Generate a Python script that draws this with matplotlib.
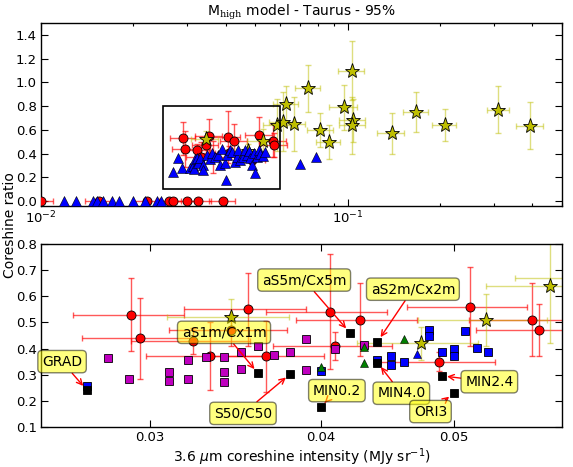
import matplotlib
matplotlib.use('Agg')
import matplotlib.pyplot as plt
from matplotlib.patches import Rectangle
from matplotlib.ticker import FixedLocator, NullFormatter, LogLocator, FixedFormatter

# red circles (observations with error bars)
red_x = [0.0291, 0.0295, 0.0323, 0.0332, 0.0344, 0.0354, 0.0365, 0.0406, 0.0410, 0.0427, 0.0488, 0.0514, 0.0570, 0.0577]
red_y = [0.53, 0.44, 0.43, 0.37, 0.47, 0.55, 0.37, 0.54, 0.41, 0.51, 0.35, 0.56, 0.51, 0.47]
red_xerr = [0.0027, 0.0027, 0.0032, 0.0034, 0.0034, 0.0036, 0.0037, 0.0041, 0.0041, 0.0043, 0.0048, 0.0052, 0.0057, 0.0058]
red_yerr = [0.14, 0.155, 0.05, 0.13, 0.06, 0.14, 0.135, 0.22, 0.055, 0.14, 0.035, 0.15, 0.14, 0.10]

# red circles with zero ratio
red0_x = [0.0100, 0.0154, 0.0221, 0.0261, 0.0270, 0.0299, 0.0326, 0.0391]
red0_y = [0, 0, 0, 0, 0, 0, 0, 0]

# yellow stars
star_x = [0.0344, 0.0473, 0.0528, 0.0588, 0.0614, 0.0629, 0.0666, 0.0745, 0.0814, 0.0867,
          0.0970, 0.1033, 0.1038, 0.1036, 0.139, 0.167, 0.207, 0.310, 0.394]
star_y = [0.52, 0.42, 0.51, 0.64, 0.67, 0.82, 0.65, 0.95, 0.60, 0.50,
          0.79, 1.10, 0.68, 0.64, 0.57, 0.75, 0.64, 0.77, 0.635]
star_xerr = [0.0035, 0.0048, 0.0057, 0.006, 0.006, 0.006, 0.006, 0.007, 0.008, 0.008,
             0.010, 0.010, 0.010, 0.010, 0.014, 0.016, 0.019, 0.025, 0.040]
star_yerr = [0.07, 0.064, 0.10, 0.22, 0.245, 0.15, 0.23, 0.20, 0.145, 0.145,
             0.19, 0.25, 0.18, 0.24, 0.17, 0.17, 0.135, 0.196, 0.196]

# blue triangles (top panel)
tri_x = [0.0270, 0.0289, 0.0279, 0.0307, 0.0314, 0.0316, 0.0318, 0.0322, 0.0326, 0.0330,
         0.0338, 0.0338, 0.0347, 0.0356, 0.0360, 0.0369, 0.0379, 0.0383, 0.0388, 0.0398,
         0.0401, 0.0405, 0.0413, 0.0419, 0.0429, 0.0435, 0.0440, 0.0446, 0.0455, 0.0463,
         0.0471, 0.0478, 0.0481, 0.0487, 0.0493, 0.0499, 0.0505, 0.0512, 0.0518, 0.0531,
         0.0538, 0.070, 0.079]
tri_y = [0.244, 0.283, 0.366, 0.283, 0.299, 0.268, 0.355, 0.366, 0.319, 0.366,
         0.304, 0.263, 0.388, 0.355, 0.402, 0.375, 0.388, 0.304, 0.436, 0.319,
         0.179, 0.388, 0.433, 0.416, 0.333, 0.375, 0.430, 0.347, 0.375, 0.430,
         0.388, 0.425, 0.361, 0.304, 0.402, 0.235, 0.375, 0.433, 0.394, 0.383,
         0.416, 0.313, 0.369]
tri0_x = [0.0119, 0.0130, 0.0148, 0.0152, 0.0159, 0.0171, 0.0180, 0.0200, 0.0218, 0.0239, 0.0247]
tri0_y = [0, 0, 0, 0, 0, 0, 0, 0, 0, 0, 0]

# model squares (bottom panel)
sq_m_x = [0.028, 0.029, 0.031, 0.031, 0.032, 0.032, 0.033, 0.034, 0.034, 0.034,
          0.035, 0.035, 0.036, 0.037, 0.038, 0.039, 0.039, 0.041, 0.043]
sq_m_y = [0.363, 0.285, 0.310, 0.275, 0.358, 0.285, 0.368, 0.369, 0.309, 0.272,
          0.387, 0.322, 0.410, 0.374, 0.388, 0.435, 0.318, 0.397, 0.415]
sq_b_x = [0.027, 0.040, 0.044, 0.045, 0.045, 0.046, 0.048, 0.048, 0.049, 0.050, 0.050, 0.051, 0.052, 0.053]
sq_b_y = [0.258, 0.314, 0.356, 0.372, 0.337, 0.350, 0.471, 0.448, 0.388, 0.398, 0.372, 0.468, 0.402, 0.388]
sq_k_x = [0.027, 0.036, 0.038, 0.040, 0.042, 0.044, 0.044, 0.049, 0.050]
sq_k_y = [0.241, 0.305, 0.303, 0.178, 0.461, 0.426, 0.346, 0.296, 0.229]
tri_g_x = [0.040, 0.043, 0.043, 0.046]
tri_g_y = [0.331, 0.405, 0.344, 0.437]
tri_b2_x = [0.047]
tri_b2_y = [0.380]

# labels: text, target point, text position
lab_text = ['GRAD', 'aS1m/Cx1m', 'S50/C50', 'aS5m/Cx5m', 'aS2m/Cx2m', 'MIN0.2', 'MIN4.0', 'MIN2.4', 'ORI3']
lab_xy = [(0.027, 0.241), (0.036, 0.305), (0.038, 0.303), (0.042, 0.461), (0.044, 0.426),
          (0.040, 0.178), (0.044, 0.346), (0.049, 0.296), (0.050, 0.229)]
lab_txt = [(0.0259, 0.350), (0.0340, 0.462), (0.0351, 0.152), (0.0389, 0.662), (0.0467, 0.627),
           (0.0411, 0.239), (0.0458, 0.229), (0.0531, 0.273), (0.0481, 0.159)]

plt.rcParams['font.size'] = 10

fig = plt.figure(figsize=(5.73, 4.67), dpi=100)
ax1 = fig.add_axes([0.0716, 0.5589, 0.9093, 0.3919])
ax2 = fig.add_axes([0.0716, 0.0857, 0.9093, 0.3919])

red_ecol = (1, 0, 0, 0.65)
yel_ecol = (0.75, 0.75, 0, 0.5)

for ax in (ax1, ax2):
    ax.errorbar(red_x, red_y, xerr=red_xerr, yerr=red_yerr, fmt='none', ecolor=red_ecol,
                elinewidth=1, capsize=2.5, zorder=2)
    ax.errorbar(star_x, star_y, xerr=star_xerr, yerr=star_yerr, fmt='none', ecolor=yel_ecol,
                elinewidth=1, capsize=2.5, zorder=2)

# top panel
ax1.errorbar(red0_x, red0_y, xerr=[v * 0.095 for v in red0_x], fmt='none', ecolor=red_ecol,
             elinewidth=1, capsize=2.5, zorder=2)
ax1.plot(red_x + red0_x, red_y + red0_y, 'o', mfc='r', mec='k', mew=0.6, ms=6.5, zorder=3)
ax1.plot(star_x, star_y, '*', mfc=(0.75, 0.75, 0), mec='k', mew=0.6, ms=11, zorder=4)
ax1.plot(tri_x + tri0_x, tri_y + tri0_y, '^', mfc='b', mec='k', mew=0.4, ms=6.5, zorder=5)
ax1.add_patch(Rectangle((0.025, 0.1), 0.035, 0.7, fill=False, ec='k', lw=1.2, zorder=6))

ax1.set_xscale('log')
ax1.set_xlim(0.01, 0.5)
ax1.set_ylim(-0.04, 1.5)
ax1.set_yticks([0.0, 0.2, 0.4, 0.6, 0.8, 1.0, 1.2, 1.4])
ax1.set_yticklabels(['0.0', '0.2', '0.4', '0.6', '0.8', '1.0', '1.2', '1.4'])
ax1.xaxis.set_major_locator(FixedLocator([0.01, 0.1]))
ax1.xaxis.set_major_formatter(FixedFormatter([r'$10^{-2}$', r'$10^{-1}$']))
ax1.xaxis.set_minor_locator(LogLocator(base=10, subs=range(2, 10)))
ax1.xaxis.set_minor_formatter(NullFormatter())
ax1.set_title(r'M$_{\rm high}$ model - Taurus - 95%', fontsize=10, pad=5,
              math_fontfamily='dejavuserif')

# bottom panel
ax2.plot(red_x, red_y, 'o', mfc='r', mec='k', mew=0.6, ms=6.5, zorder=3)
ax2.plot(star_x, star_y, '*', mfc=(0.75, 0.75, 0), mec='k', mew=0.6, ms=11, zorder=4)
ax2.plot(sq_m_x, sq_m_y, 's', mfc=(0.75, 0, 0.75), mec='k', mew=0.6, ms=6, zorder=5)
ax2.plot(sq_b_x, sq_b_y, 's', mfc='b', mec='k', mew=0.6, ms=6, zorder=5)
ax2.plot(tri_g_x, tri_g_y, '^', mfc=(0, 0.5, 0), mec='k', mew=0.4, ms=6, zorder=5)
ax2.plot(tri_b2_x, tri_b2_y, '^', mfc='b', mec='k', mew=0.4, ms=6, zorder=5)
ax2.plot(sq_k_x, sq_k_y, 's', mfc='k', mec='k', mew=0.6, ms=6, zorder=6)

for t, xy, xyt in zip(lab_text, lab_xy, lab_txt):
    ax2.annotate(t, xy=xy, xytext=xyt, ha='center', va='center', fontsize=10, zorder=10,
                 bbox=dict(boxstyle='round,pad=0.3', fc='yellow', ec='k', alpha=0.5),
                 arrowprops=dict(arrowstyle='->', color='r', shrinkA=0, shrinkB=4, lw=1))

ax2.set_xscale('log')
ax2.set_xlim(0.025, 0.06)
ax2.set_ylim(0.1, 0.8)
ax2.xaxis.set_major_locator(FixedLocator([0.03, 0.04, 0.05]))
ax2.xaxis.set_major_formatter(FixedFormatter(['0.03', '0.04', '0.05']))
ax2.xaxis.set_minor_locator(FixedLocator([]))
ax2.set_yticks([0.1, 0.2, 0.3, 0.4, 0.5, 0.6, 0.7, 0.8])
ax2.set_yticklabels(['0.1', '0.2', '0.3', '0.4', '0.5', '0.6', '0.7', '0.8'])
ax2.set_xlabel(r'3.6 $\mu$m coreshine intensity (MJy sr$^{-1}$)', fontsize=10, labelpad=1.5)

for ax in (ax1, ax2):
    ax.tick_params(which='both', direction='in', top=True, right=True, labelsize=9.5)
    ax.tick_params(which='major', length=5, width=0.8, pad=3)
    ax.tick_params(which='minor', length=2.5, width=0.8)
    for s in ax.spines.values():
        s.set_linewidth(1.0)

fig.text(0.017, 0.518, 'Coreshine ratio', rotation=90, va='center', ha='center', fontsize=10)

fig.savefig('out.png', dpi=100)
